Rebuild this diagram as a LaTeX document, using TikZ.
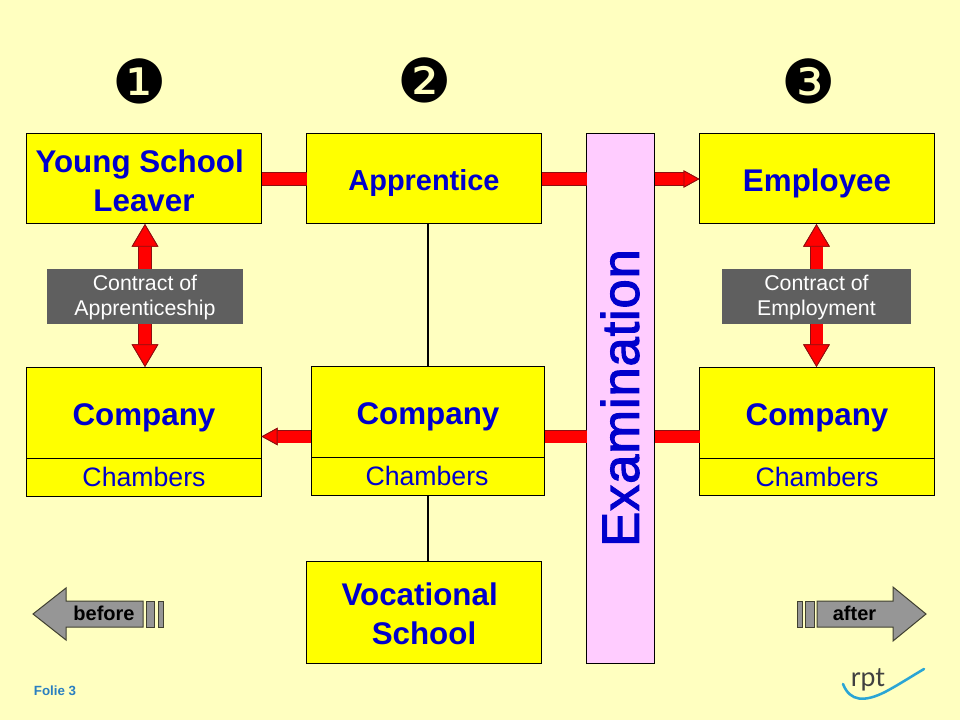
\documentclass[tikz,border=0pt]{standalone}
\usepackage{fontspec}
\setmainfont{Liberation Sans}
\newfontfamily\numfont{DejaVu Sans}
\newfontfamily\logofont{Lato}
\newfontfamily\examfont[FakeBold=2,LetterSpace=1.5]{Liberation Sans}
\usetikzlibrary{arrows.meta}
\definecolor{paper}{HTML}{FFFFC0}
\definecolor{boxyellow}{HTML}{FFFF00}
\definecolor{boxblue}{HTML}{0000CC}
\definecolor{barline}{HTML}{8C1010}
\definecolor{barred}{HTML}{FF0000}
\definecolor{contractgray}{HTML}{5F5F5F}
\definecolor{examlilac}{HTML}{FFCCFF}
\definecolor{navgray}{HTML}{969696}
\definecolor{navline}{HTML}{404030}
\definecolor{folieblue}{HTML}{2A7FC0}
\definecolor{swoosh}{HTML}{2AA5D5}
\tikzset{
 yellowbox/.style={draw=black,fill=boxyellow,line width=0.75pt,inner sep=0pt,outer sep=0pt,align=center,
   text=boxblue,font=\fontsize{23.5}{29}\selectfont\bfseries,minimum width=176.25pt},
 chamberbox/.style={yellowbox,font=\fontsize{20}{24}\selectfont,text=boxblue},
 contract/.style={fill=contractgray,text=white,inner sep=0pt,outer sep=0pt,align=center,
   font=\fontsize{16}{18.75}\selectfont,minimum height=41.25pt},
 redbar/.style={draw=barred,line width=9pt,preaction={draw=barline,line width=10pt}},
 redtip/.style={-{Triangle[length=12pt,width=13pt,line width=0.6pt,color=barline,fill=barred]}},
 bigtip/.style={-{Triangle[length=17pt,width=20pt,line width=0.6pt,color=barline,fill=barred]}},
 navarrow/.style={draw=navline,fill=navgray,line width=0.75pt},
 navtext/.style={font=\fontsize{15}{17}\selectfont\bfseries,text=black,inner sep=0pt},
 bignum/.style={font=\fontsize{45.5}{46}\numfont,text=black,inner sep=0pt},
}
\begin{document}
\begin{tikzpicture}[x=0.75pt,y=-0.75pt]
 \fill[paper](0,0) rectangle (960,720);

 \node[bignum] (numone) at (140,81) {❶};
 \node[bignum] (numtwo) at (425,80) {❷};
 \node[bignum] (numthree) at (809,81) {❸};

 \coordinate (lowrow) at (0,436.5);

 \node[yellowbox,minimum height=67.5pt] (leaver) at (144,179) {\rule{0pt}{20pt}Young School\kern0.278em\\Leaver};
 \node[yellowbox,minimum height=67.5pt,text height=21.8pt,font=\fontsize{21.7}{26}\selectfont\bfseries] (apprentice) at (424,179) {Apprentice};
 \node[yellowbox,minimum height=67.5pt,text height=23pt] (employee) at (817,179) {Employee};

 \node[yellowbox,minimum height=68.25pt,text height=24.5pt] (companyl) at (144,412.5) {Company};
 \node[chamberbox,minimum height=28.5pt] (chambersl) at (144,477) {Chambers};
 \node[yellowbox,minimum height=68.25pt,minimum width=175pt,text height=24.5pt] (companym) at (428,411.5) {Company};
 \node[chamberbox,minimum height=28.5pt,minimum width=175pt] (chambersm) at (428,476) {\kern-1.5pt Chambers};
 \node[yellowbox,minimum height=68.25pt,text height=24.5pt] (companyr) at (817,412.5) {Company};
 \node[chamberbox,minimum height=27.75pt] (chambersr) at (817,476.5) {Chambers};
 \node[yellowbox,minimum height=76.5pt] (vocational) at (424,612) {\rule{0pt}{20pt}Vocational\kern0.278em\\School};

 \node[draw=black,fill=examlilac,line width=0.75pt,inner sep=0pt,outer sep=0pt,minimum width=51pt,minimum height=396.75pt] (exam) at (620.5,398.5) {};
 \node[rotate=90,text=boxblue,inner sep=0pt,font=\fontsize{39.5}{44}\examfont] (examtext) at (620,398) {Examination};

 \node[contract,minimum width=147pt] (contractl) at (145,296.5) {\rule{0pt}{13.2pt}Contract of\\Apprenticeship};
 \node[contract,minimum width=141.75pt] (contractr) at (816.5,296.5) {\rule{0pt}{13.2pt}Contract of\\Employment};

 \draw[redbar] (leaver.east) -- (apprentice.west);
 \draw[redbar] (apprentice.east) -- (exam.west |- apprentice.east);
 \draw[redbar,redtip] (exam.east |- employee.west) -- (employee.west);
 \draw[redbar,redtip] (companym.west |- lowrow) -- (companyl.east |- lowrow);
 \draw[redbar] (companym.east |- lowrow) -- (exam.west |- lowrow);
 \draw[redbar] (exam.east |- lowrow) -- (companyr.west |- lowrow);

 \draw[redbar,bigtip] (contractl.north) -- (contractl.north |- leaver.south);
 \draw[redbar,bigtip] (contractl.south) -- (contractl.south |- companyl.north);
 \draw[redbar,bigtip] (contractr.north) -- (contractr.north |- employee.south);
 \draw[redbar,bigtip] (contractr.south) -- (contractr.south |- companyr.north);

 \draw[line width=1.5pt] (apprentice.south -| companym.north) -- (companym.north);
 \draw[line width=1.5pt] (chambersm.south) -- (chambersm.south |- vocational.north);

 \draw[navarrow] (33,614)--(66,588)--(66,601)--(143,601)--(143,627)--(66,627)--(66,640)--cycle;
 \draw[navarrow] (146,601) rectangle (154,627);
 \draw[navarrow] (158,601) rectangle (163,627);
 \node[navtext] (before) at (104,613) {before};

 \draw[navarrow] (926,614)--(893,587)--(893,601)--(817,601)--(817,627)--(893,627)--(893,641)--cycle;
 \draw[navarrow] (805,601) rectangle (814,627);
 \draw[navarrow] (797,601) rectangle (802,627);
 \node[navtext] (after) at (854.5,613) {after};

 \node[text=folieblue,inner sep=0pt,font=\fontsize{10}{12}\selectfont\bfseries] (folie) at (55,691) {Folie 3};

 \node[text=black!75,inner sep=0pt,font=\fontsize{20}{22}\logofont] (rpt) at (868,680) {rpt};
 \draw[swoosh,line width=1.9pt,line cap=round] (843,684) .. controls (850,702) and (865,702) .. (885,692) .. controls (900,684) and (912,676) .. (924,669);
\end{tikzpicture}
\end{document}
